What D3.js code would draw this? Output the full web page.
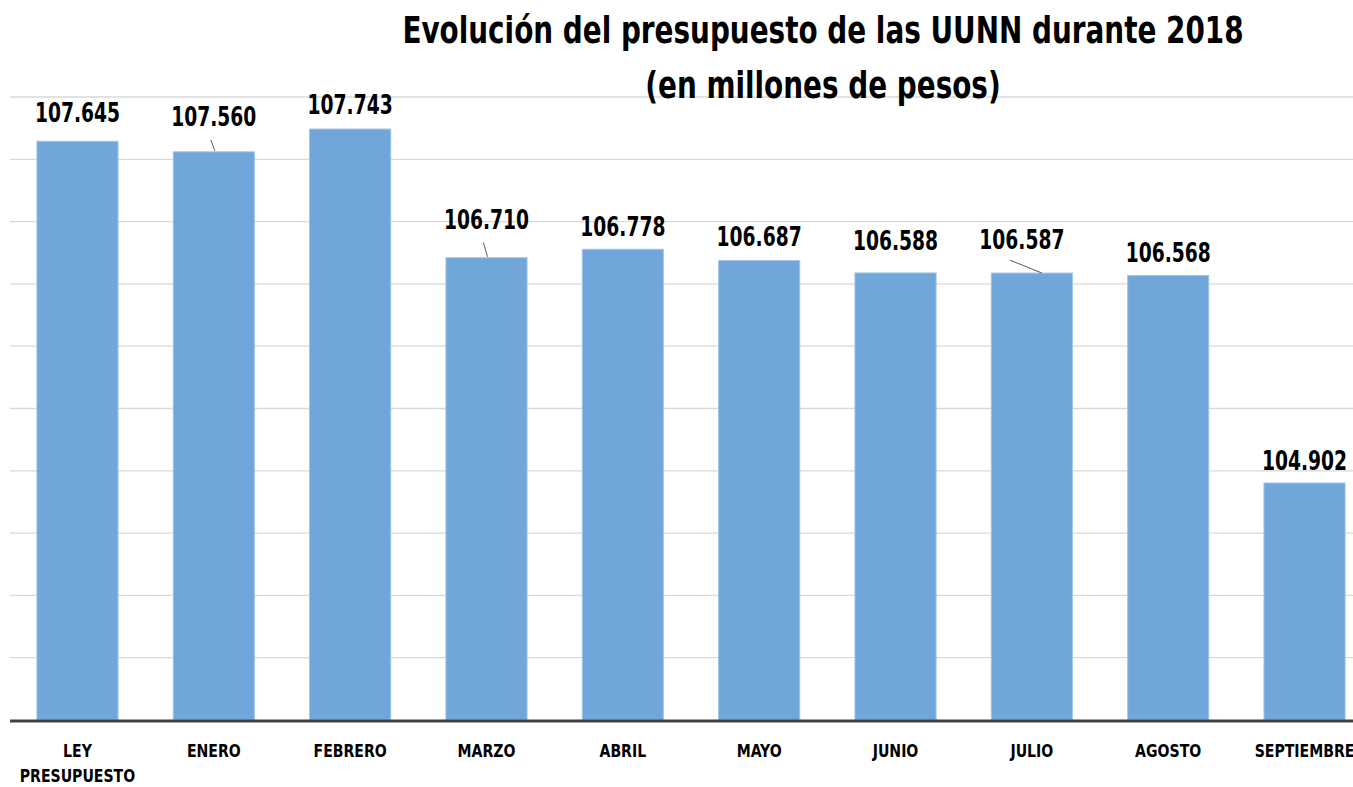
<!DOCTYPE html>
<html>
<head>
<meta charset="utf-8">
<script src="https://cdn.jsdelivr.net/npm/d3@7"></script>
<style>
  body { margin: 0; background: #fff; }
  svg { display: block; font-family: "DejaVu Sans Condensed", "DejaVu Sans", sans-serif; font-weight: bold; }
</style>
</head>
<body>
<div id="chart"></div>
<script>
const categories = ['LEY PRESUPUESTO', 'ENERO', 'FEBRERO', 'MARZO', 'ABRIL', 'MAYO', 'JUNIO', 'JULIO', 'AGOSTO', 'SEPTIEMBRE'];
const values = [107.645, 107.560, 107.743, 106.710, 106.778, 106.687, 106.588, 106.587, 106.568, 104.902];
const valueLabels = ['107.645', '107.560', '107.743', '106.710', '106.778', '106.687', '106.588', '106.587', '106.568', '104.902'];
const yTicks = [103, 103.5, 104, 104.5, 105, 105.5, 106, 106.5, 107, 107.5, 108];
const titleLines = ['Evolución del presupuesto de las UUNN durante 2018', '(en millones de pesos)'];

// label nudges (px) relative to default spot above each bar; leader line drawn when moved far
const labelNudge = [[0, -6], [0, -13], [0, -2], [0, -16], [0, 0], [0, -2], [0, -10], [-10, -11], [0, 0], [0, 0]];

const width = 1353, height = 787;
const svg = d3.select('#chart').append('svg')
  .attr('width', width)
  .attr('height', height);

const x = d3.scaleBand()
  .domain(categories)
  .range([9.3, 1372.7])
  .paddingInner(0.405)
  .paddingOuter(0.2025);

const y = d3.scaleLinear()
  .domain([103, 108])
  .range([720, 97]);

// narrow bold text: squeeze DejaVu horizontally to look like the original condensed face
function narrowText(g, tx, ty, sx, size, str) {
  return g.append('text')
    .attr('transform', `translate(${tx},${ty}) scale(${sx},1)`)
    .attr('text-anchor', 'middle')
    .attr('font-size', size)
    .attr('fill', '#000')
    .text(str);
}

// gridlines
svg.append('g')
  .selectAll('line')
  .data(yTicks.slice(1))
  .enter().append('line')
  .attr('x1', 10)
  .attr('x2', width)
  .attr('y1', d => y(d))
  .attr('y2', d => y(d))
  .attr('stroke', '#d9d9d9')
  .attr('stroke-width', 1.3);

// bars
svg.append('g')
  .selectAll('rect')
  .data(values)
  .enter().append('rect')
  .attr('x', (d, i) => x(categories[i]))
  .attr('y', d => y(d))
  .attr('width', x.bandwidth())
  .attr('height', d => y(103) - y(d))
  .attr('fill', '#70a6da')
  .attr('stroke', '#9fc5ea')
  .attr('stroke-width', 1);

// baseline
svg.append('line')
  .attr('x1', 10)
  .attr('x2', width)
  .attr('y1', y(103) + 1)
  .attr('y2', y(103) + 1)
  .attr('stroke', '#404040')
  .attr('stroke-width', 3);

// leader lines
values.forEach((v, i) => {
  const [dx, dy] = labelNudge[i];
  if (dy >= -10) return;
  const cx = x(categories[i]) + x.bandwidth() / 2;
  const top = y(v);
  if (dx !== 0) {
    svg.append('line')
      .attr('x1', cx + dx - 12).attr('y1', top - 13)
      .attr('x2', cx + dx + 20).attr('y2', top)
      .attr('stroke', '#595959').attr('stroke-width', 1);
  } else {
    svg.append('line')
      .attr('x1', cx - 3).attr('y1', top + dy + 1)
      .attr('x2', cx + 1).attr('y2', top - 1)
      .attr('stroke', '#595959').attr('stroke-width', 1);
  }
});

// value labels
const valG = svg.append('g');
values.forEach((v, i) => {
  narrowText(valG,
    x(categories[i]) + x.bandwidth() / 2 + labelNudge[i][0],
    y(v) - 13 + labelNudge[i][1],
    0.77, 27, valueLabels[i]);
});

// category labels
const catG = svg.append('g');
categories.forEach(c => {
  const words = c === 'LEY PRESUPUESTO' ? ['LEY', 'PRESUPUESTO'] : [c];
  words.forEach((w, j) => {
    narrowText(catG, x(c) + x.bandwidth() / 2, 757 + j * 25, 0.87, 18, w);
  });
});

// title
const titleG = svg.append('g');
titleLines.forEach((t, i) => {
  narrowText(titleG, 823, 43 + i * 55, 0.815, 38, t);
});
</script>
</body>
</html>
